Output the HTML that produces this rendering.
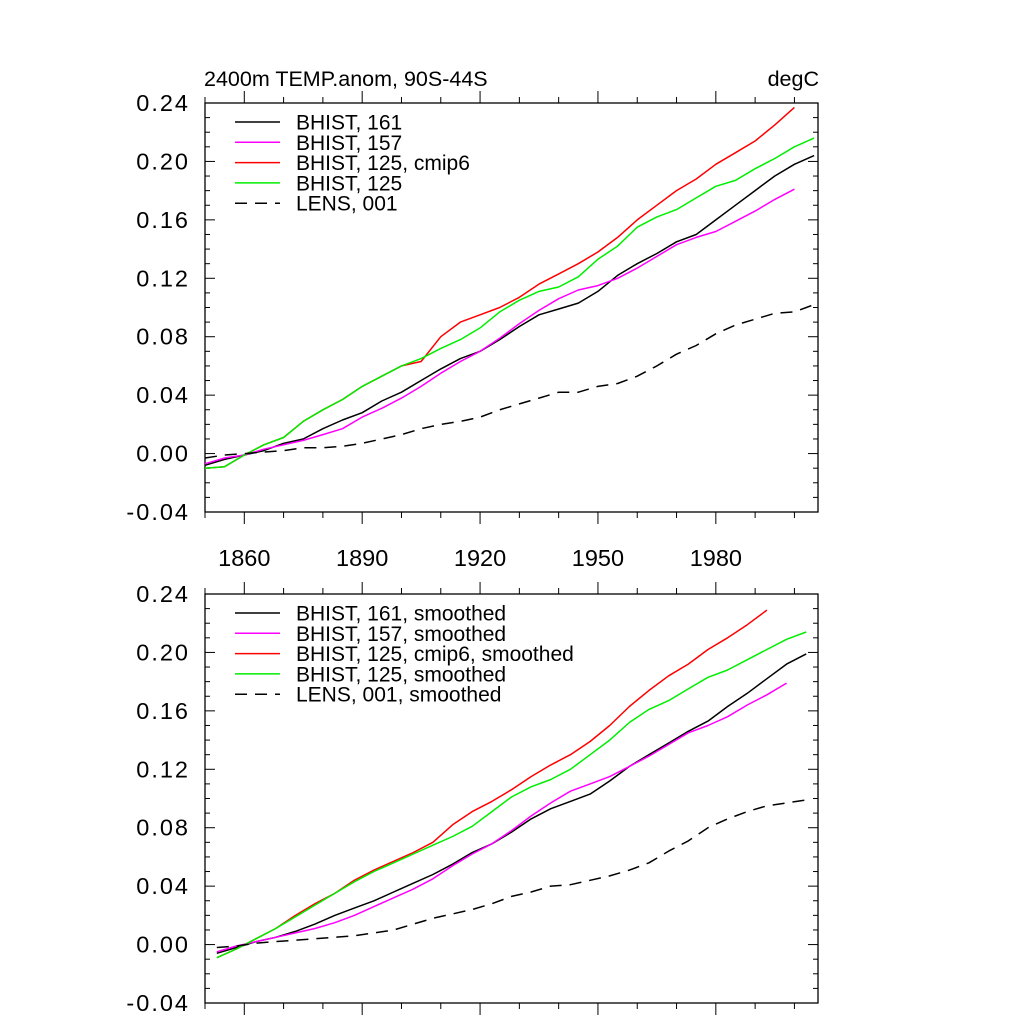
<!DOCTYPE html>
<html><head><meta charset="utf-8"><style>
html,body{margin:0;padding:0;background:#fff;}
svg{display:block;font-family:"Liberation Sans",sans-serif;}
</style></head><body>
<svg id="chart" width="1024" height="1024" viewBox="0 0 1024 1024"></svg>
<script>
const years1=[1850,1855,1860,1865,1870,1875,1880,1885,1890,1895,1900,1905,1910,1915,1920,1925,1930,1935,1940,1945,1950,1955,1960,1965,1970,1975,1980,1985,1990,1995,2000,2005];
const black1=[-0.008,-0.004,-0.001,0.002,0.007,0.010,0.017,0.023,0.028,0.036,0.042,0.050,0.058,0.065,0.070,0.078,0.087,0.095,0.099,0.103,0.111,0.122,0.130,0.137,0.145,0.150,0.160,0.170,0.180,0.190,0.198,0.204];
const magenta1=[-0.007,-0.003,-0.001,0.003,0.006,0.009,0.013,0.017,0.025,0.031,0.038,0.046,0.055,0.063,0.070,0.079,0.089,0.098,0.106,0.112,0.115,0.120,0.127,0.135,0.143,0.148,0.152,0.159,0.166,0.174,0.181,null];
const red1=[-0.010,-0.009,-0.001,0.006,0.011,0.022,0.030,0.037,0.046,0.053,0.060,0.063,0.080,0.090,0.095,0.100,0.107,0.116,0.123,0.130,0.138,0.148,0.160,0.170,0.180,0.188,0.198,0.206,0.214,0.225,0.237,null];
const green1=[-0.010,-0.009,-0.001,0.006,0.011,0.022,0.030,0.037,0.046,0.053,0.060,0.065,0.072,0.078,0.086,0.097,0.105,0.111,0.114,0.121,0.133,0.142,0.155,0.162,0.167,0.175,0.183,0.187,0.195,0.202,0.210,0.216];
const lens1=[-0.003,-0.001,0.000,0.001,0.002,0.004,0.004,0.005,0.007,0.010,0.013,0.017,0.020,0.022,0.025,0.030,0.034,0.038,0.042,0.042,0.046,0.048,0.053,0.060,0.068,0.074,0.082,0.088,0.092,0.096,0.097,0.102];
const years2=[1853,1858,1863,1868,1873,1878,1883,1888,1893,1898,1903,1908,1913,1918,1923,1928,1933,1938,1943,1948,1953,1958,1963,1968,1973,1978,1983,1988,1993,1998,2003];
const black2=[-0.006,-0.002,0.002,0.005,0.009,0.014,0.020,0.025,0.030,0.036,0.042,0.048,0.055,0.063,0.069,0.077,0.086,0.093,0.098,0.103,0.112,0.122,0.130,0.138,0.146,0.153,0.163,0.172,0.182,0.192,0.199];
const magenta2=[-0.005,-0.001,0.002,0.005,0.008,0.011,0.015,0.020,0.026,0.032,0.038,0.045,0.054,0.062,0.069,0.078,0.088,0.097,0.105,0.110,0.115,0.122,0.129,0.137,0.145,0.150,0.156,0.164,0.171,0.179,null];
const red2=[-0.009,-0.003,0.004,0.011,0.020,0.028,0.035,0.044,0.051,0.057,0.063,0.070,0.082,0.091,0.098,0.106,0.115,0.123,0.130,0.139,0.150,0.163,0.174,0.184,0.192,0.202,0.210,0.219,0.229,null,null];
const green2=[-0.009,-0.003,0.004,0.011,0.019,0.027,0.035,0.043,0.050,0.056,0.062,0.068,0.074,0.081,0.091,0.101,0.108,0.113,0.120,0.130,0.140,0.152,0.161,0.167,0.175,0.183,0.188,0.195,0.202,0.209,0.214];
const lens2=[-0.002,-0.001,0.001,0.002,0.003,0.004,0.005,0.006,0.008,0.010,0.014,0.018,0.021,0.024,0.028,0.033,0.036,0.040,0.041,0.044,0.047,0.051,0.056,0.064,0.071,0.080,0.086,0.091,0.095,0.097,0.099];
const yTicks=[-0.04,0.00,0.04,0.08,0.12,0.16,0.20,0.24];
const yTickLabels=["-0.04","0.00","0.04","0.08","0.12","0.16","0.20","0.24"];
const xTicks=[1860,1890,1920,1950,1980];
const legend1=["BHIST, 161","BHIST, 157","BHIST, 125, cmip6","BHIST, 125","LENS, 001"];
const legend2=["BHIST, 161, smoothed","BHIST, 157, smoothed","BHIST, 125, cmip6, smoothed","BHIST, 125, smoothed","LENS, 001, smoothed"];
const colors=["#000","#ff00ff","#ff0000","#00ee00","#000"];

const svg=document.getElementById('chart');
const NS="http://www.w3.org/2000/svg";
function mk(tag,attrs,parent){const e=document.createElementNS(NS,tag);for(const k in attrs)e.setAttribute(k,attrs[k]);(parent||svg).appendChild(e);return e;}
const X0=205,X1=818,XMIN=1850,XMAX=2006,YMIN=-0.04,YMAX=0.24;
function xs(v){return X0+(v-XMIN)/(XMAX-XMIN)*(X1-X0);}

function panel(top,bottom,years,series,labels,showX,pname){
  const g=mk('g',{});
  
  
  const ys=v=>bottom-(v-YMIN)/(YMAX-YMIN)*(bottom-top);
  for(let k=0;k<=28;k++){
    const v=YMIN+k*0.01, y=ys(v), major=(k%4===0);
    const L=major?10:5;
    mk('line',{x1:X0,x2:X0+L,y1:y,y2:y,stroke:'#000','stroke-width':1},g);
    mk('line',{x1:X1,x2:X1-L,y1:y,y2:y,stroke:'#000','stroke-width':1},g);
  }
  yTicks.forEach((v,i)=>{
    const t=mk('text',{x:190,y:ys(v)+8,'text-anchor':'end','font-size':23.5,'letter-spacing':2},g);
    t.textContent=yTickLabels[i];
    
    
  });
  for(let yr=1850;yr<=2006;yr+=10){
    const x=xs(yr), major=((yr-1860)%30===0);
    const L=major?12:6;
    mk('line',{x1:x,x2:x,y1:bottom,y2:bottom+L,stroke:'#000','stroke-width':1},g);
    mk('line',{x1:x,x2:x,y1:top,y2:top-L,stroke:'#000','stroke-width':1},g);
  }
  if(showX){
    xTicks.forEach(v=>{
      const t=mk('text',{x:xs(v),y:bottom+54,'text-anchor':'middle','font-size':23.5},g);
      t.textContent=v;
      
      
    });
  }
  const fr=mk('rect',{x:X0,y:top,width:X1-X0,height:bottom-top,fill:'none',stroke:'#000','stroke-width':1.3},g);
  
  
  series.forEach((s,i)=>{
    let d='';
    s.forEach((v,j)=>{if(v===null)return;d+=(d?'L':'M')+xs(years[j]).toFixed(1)+','+ys(v).toFixed(1);});
    const p=mk('path',{d:d,fill:'none',stroke:colors[i],'stroke-width':1.5,'stroke-linejoin':'round'},g);
    if(i===4)p.setAttribute('stroke-dasharray','12,8');
    
    
  });
  labels.forEach((lab,i)=>{
    const y=top+19+i*20.3;
    const l=mk('line',{x1:235,x2:280,y1:y,y2:y,stroke:colors[i],'stroke-width':1.5},g);
    if(i===4)l.setAttribute('stroke-dasharray','12,8');
    
    
    const t=mk('text',{x:296,y:y+7.5,'font-size':21},g);
    t.textContent=lab;
    
    
  });
}
const t1=mk('text',{x:204,y:86,'font-size':21.5});
t1.textContent="2400m TEMP.anom, 90S-44S";


const t2=mk('text',{x:819,y:86,'font-size':21.5,'text-anchor':'end'});
t2.textContent="degC";


panel(103,512,years1,[black1,magenta1,red1,green1,lens1],legend1,true,'top-panel');
panel(594,1003,years2,[black2,magenta2,red2,green2,lens2],legend2,false,'bottom-panel');
</script>
</body></html>
